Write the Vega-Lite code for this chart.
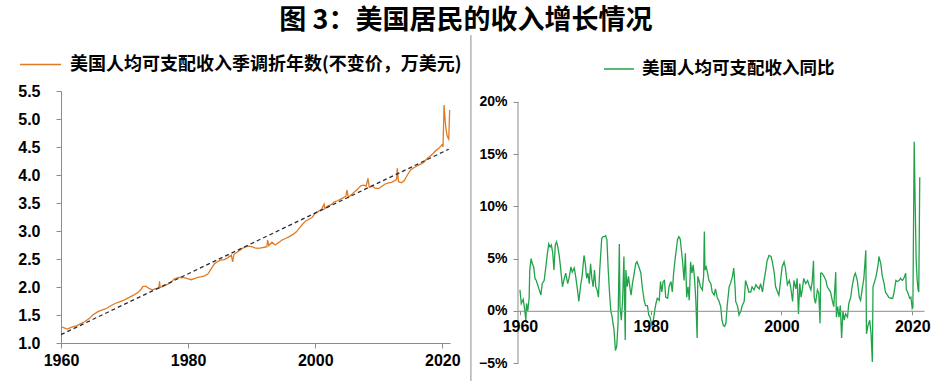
{
  "$schema": "https://vega.github.io/schema/vega-lite/v6.json",
  "background": "white",
  "padding": {"left": 17, "top": 6, "right": 2, "bottom": 0},
  "autosize": {"type": "pad"},
  "title": {"text": "图 3：美国居民的收入增长情况", "anchor": "middle", "dx": -8, "font": "Noto Sans CJK SC", "fontSize": 27, "fontWeight": "bold", "color": "black", "offset": 0},
  "spacing": 8,
  "resolve": {"scale": {"color": "independent", "x": "independent", "y": "independent"}, "legend": {"color": "independent"}},
  "datasets": {
    "income": [
      {"year":1960.0,"value":1.29},{"year":1960.5,"value":1.27},{"year":1961.0,"value":1.25},{"year":1961.6,"value":1.28},{"year":1962.5,"value":1.31},{"year":1963.2,"value":1.35},{"year":1963.7,"value":1.38},{"year":1964.5,"value":1.44},{"year":1965.0,"value":1.50},{"year":1965.8,"value":1.56},{"year":1966.5,"value":1.59},{"year":1967.2,"value":1.62},{"year":1967.9,"value":1.67},{"year":1968.6,"value":1.71},{"year":1969.3,"value":1.74},{"year":1970.0,"value":1.77},{"year":1970.8,"value":1.82},{"year":1971.5,"value":1.86},{"year":1972.1,"value":1.90},{"year":1972.6,"value":1.96},{"year":1972.9,"value":2.01},{"year":1973.4,"value":2.01},{"year":1973.9,"value":1.97},{"year":1974.4,"value":1.95},{"year":1974.9,"value":1.97},{"year":1975.4,"value":1.98},{"year":1975.5,"value":2.10},{"year":1975.6,"value":1.99},{"year":1976.2,"value":2.02},{"year":1976.8,"value":2.05},{"year":1977.3,"value":2.08},{"year":1977.8,"value":2.14},{"year":1978.5,"value":2.17},{"year":1979.2,"value":2.17},{"year":1979.9,"value":2.15},{"year":1980.5,"value":2.13},{"year":1981.0,"value":2.15},{"year":1981.5,"value":2.17},{"year":1982.0,"value":2.18},{"year":1982.6,"value":2.20},{"year":1983.1,"value":2.23},{"year":1983.6,"value":2.32},{"year":1984.1,"value":2.41},{"year":1984.6,"value":2.45},{"year":1985.1,"value":2.48},{"year":1985.7,"value":2.49},{"year":1986.2,"value":2.52},{"year":1986.8,"value":2.57},{"year":1987.0,"value":2.45},{"year":1987.2,"value":2.58},{"year":1987.8,"value":2.63},{"year":1988.4,"value":2.68},{"year":1988.9,"value":2.71},{"year":1989.5,"value":2.73},{"year":1990.0,"value":2.72},{"year":1990.5,"value":2.70},{"year":1991.0,"value":2.69},{"year":1991.5,"value":2.70},{"year":1992.0,"value":2.71},{"year":1992.4,"value":2.72},{"year":1992.5,"value":2.84},{"year":1992.7,"value":2.74},{"year":1993.2,"value":2.80},{"year":1993.7,"value":2.75},{"year":1994.3,"value":2.80},{"year":1994.8,"value":2.84},{"year":1995.4,"value":2.87},{"year":1995.9,"value":2.90},{"year":1996.5,"value":2.94},{"year":1997.0,"value":2.98},{"year":1997.5,"value":3.05},{"year":1998.0,"value":3.12},{"year":1998.5,"value":3.18},{"year":1999.0,"value":3.21},{"year":1999.5,"value":3.24},{"year":2000.0,"value":3.32},{"year":2000.5,"value":3.35},{"year":2001.0,"value":3.39},{"year":2001.4,"value":3.48},{"year":2001.5,"value":3.40},{"year":2002.0,"value":3.45},{"year":2002.5,"value":3.47},{"year":2003.0,"value":3.52},{"year":2003.5,"value":3.54},{"year":2004.0,"value":3.57},{"year":2004.5,"value":3.60},{"year":2004.8,"value":3.62},{"year":2005.0,"value":3.73},{"year":2005.2,"value":3.60},{"year":2005.7,"value":3.65},{"year":2006.2,"value":3.70},{"year":2006.7,"value":3.75},{"year":2007.2,"value":3.81},{"year":2007.7,"value":3.82},{"year":2008.0,"value":3.80},{"year":2008.3,"value":3.94},{"year":2008.5,"value":3.78},{"year":2009.0,"value":3.80},{"year":2009.5,"value":3.76},{"year":2010.0,"value":3.76},{"year":2010.5,"value":3.80},{"year":2011.0,"value":3.84},{"year":2011.5,"value":3.86},{"year":2012.0,"value":3.87},{"year":2012.5,"value":3.90},{"year":2012.8,"value":3.92},{"year":2012.9,"value":4.12},{"year":2013.1,"value":3.88},{"year":2013.6,"value":3.86},{"year":2014.0,"value":3.90},{"year":2014.5,"value":4.00},{"year":2015.0,"value":4.09},{"year":2015.5,"value":4.13},{"year":2016.0,"value":4.16},{"year":2016.5,"value":4.19},{"year":2017.0,"value":4.22},{"year":2017.5,"value":4.28},{"year":2018.0,"value":4.33},{"year":2018.5,"value":4.38},{"year":2019.0,"value":4.44},{"year":2019.5,"value":4.48},{"year":2020.0,"value":4.55},{"year":2020.1,"value":4.50},{"year":2020.27,"value":5.25},{"year":2020.45,"value":4.95},{"year":2020.6,"value":4.80},{"year":2020.75,"value":4.70},{"year":2020.9,"value":4.66},{"year":2021.0,"value":4.64},{"year":2021.15,"value":5.16}
    ],
    "trend": [{"year":1960.0,"value":1.15},{"year":2021.0,"value":4.46}],
    "growth": [
      {"year":1960.0,"value":2.0},{"year":1960.2,"value":0.7},{"year":1960.5,"value":1.1},{"year":1960.7,"value":0.2},{"year":1960.9,"value":-0.9},{"year":1961.0,"value":0.7},{"year":1961.2,"value":0.0},{"year":1961.4,"value":1.2},{"year":1961.5,"value":3.9},{"year":1961.7,"value":5.0},{"year":1961.9,"value":4.5},{"year":1962.1,"value":4.2},{"year":1962.3,"value":3.1},{"year":1962.5,"value":2.9},{"year":1962.7,"value":2.5},{"year":1962.9,"value":2.1},{"year":1963.2,"value":1.5},{"year":1963.4,"value":2.6},{"year":1963.7,"value":2.9},{"year":1963.9,"value":3.9},{"year":1964.2,"value":5.5},{"year":1964.4,"value":6.4},{"year":1964.6,"value":6.1},{"year":1964.8,"value":6.3},{"year":1965.0,"value":5.6},{"year":1965.2,"value":3.9},{"year":1965.4,"value":6.3},{"year":1965.6,"value":6.6},{"year":1965.8,"value":6.1},{"year":1966.0,"value":5.3},{"year":1966.2,"value":4.2},{"year":1966.5,"value":2.3},{"year":1966.7,"value":2.9},{"year":1967.0,"value":3.6},{"year":1967.3,"value":2.6},{"year":1967.5,"value":3.1},{"year":1967.8,"value":4.2},{"year":1968.0,"value":3.7},{"year":1968.3,"value":4.1},{"year":1968.5,"value":3.4},{"year":1968.8,"value":2.0},{"year":1969.0,"value":0.9},{"year":1969.3,"value":2.5},{"year":1969.5,"value":3.3},{"year":1969.8,"value":5.3},{"year":1970.0,"value":4.5},{"year":1970.2,"value":3.1},{"year":1970.4,"value":3.6},{"year":1970.6,"value":2.6},{"year":1970.8,"value":4.5},{"year":1971.0,"value":3.1},{"year":1971.2,"value":2.3},{"year":1971.4,"value":3.9},{"year":1971.6,"value":2.3},{"year":1971.8,"value":2.0},{"year":1972.0,"value":1.3},{"year":1972.2,"value":3.9},{"year":1972.5,"value":6.9},{"year":1972.7,"value":7.1},{"year":1972.9,"value":7.1},{"year":1973.1,"value":7.2},{"year":1973.3,"value":6.8},{"year":1973.5,"value":3.9},{"year":1973.7,"value":1.7},{"year":1973.9,"value":0.0},{"year":1974.1,"value":-0.6},{"year":1974.4,"value":-1.9},{"year":1974.6,"value":-3.8},{"year":1974.8,"value":-3.4},{"year":1975.0,"value":-1.2},{"year":1975.2,"value":6.4},{"year":1975.3,"value":0.4},{"year":1975.5,"value":-0.9},{"year":1975.7,"value":1.0},{"year":1975.9,"value":5.2},{"year":1976.1,"value":-2.8},{"year":1976.2,"value":3.9},{"year":1976.4,"value":2.3},{"year":1976.6,"value":3.3},{"year":1976.8,"value":2.3},{"year":1977.0,"value":1.5},{"year":1977.2,"value":2.6},{"year":1977.4,"value":3.3},{"year":1977.7,"value":4.5},{"year":1977.9,"value":4.7},{"year":1978.2,"value":4.2},{"year":1978.5,"value":3.6},{"year":1978.7,"value":2.3},{"year":1979.0,"value":1.0},{"year":1979.2,"value":0.5},{"year":1979.5,"value":0.5},{"year":1979.7,"value":-0.4},{"year":1979.9,"value":-0.6},{"year":1980.2,"value":-1.5},{"year":1980.4,"value":-0.9},{"year":1980.6,"value":0.0},{"year":1980.8,"value":0.7},{"year":1981.0,"value":1.2},{"year":1981.3,"value":1.0},{"year":1981.5,"value":2.8},{"year":1981.7,"value":1.8},{"year":1981.9,"value":2.8},{"year":1982.1,"value":2.9},{"year":1982.3,"value":1.3},{"year":1982.6,"value":1.2},{"year":1982.8,"value":2.3},{"year":1983.1,"value":2.8},{"year":1983.3,"value":1.8},{"year":1983.5,"value":3.6},{"year":1983.7,"value":4.8},{"year":1983.9,"value":5.8},{"year":1984.1,"value":6.8},{"year":1984.3,"value":7.1},{"year":1984.5,"value":6.9},{"year":1984.7,"value":5.8},{"year":1984.9,"value":4.5},{"year":1985.1,"value":2.9},{"year":1985.3,"value":5.5},{"year":1985.5,"value":1.3},{"year":1985.7,"value":2.3},{"year":1985.9,"value":1.0},{"year":1986.1,"value":4.7},{"year":1986.3,"value":3.6},{"year":1986.5,"value":4.4},{"year":1986.7,"value":3.1},{"year":1986.9,"value":1.0},{"year":1987.1,"value":-2.6},{"year":1987.2,"value":3.3},{"year":1987.4,"value":2.9},{"year":1987.6,"value":2.3},{"year":1987.9,"value":2.0},{"year":1988.1,"value":3.4},{"year":1988.2,"value":7.6},{"year":1988.3,"value":3.9},{"year":1988.5,"value":4.2},{"year":1988.7,"value":3.6},{"year":1988.9,"value":2.9},{"year":1989.2,"value":2.6},{"year":1989.4,"value":1.8},{"year":1989.7,"value":1.5},{"year":1989.9,"value":2.1},{"year":1990.2,"value":1.2},{"year":1990.4,"value":1.0},{"year":1990.7,"value":0.4},{"year":1990.9,"value":-0.9},{"year":1991.1,"value":-1.4},{"year":1991.3,"value":-1.5},{"year":1991.5,"value":-1.2},{"year":1991.7,"value":0.5},{"year":1992.0,"value":2.3},{"year":1992.2,"value":2.6},{"year":1992.5,"value":3.3},{"year":1992.7,"value":4.1},{"year":1992.9,"value":2.3},{"year":1993.0,"value":0.9},{"year":1993.3,"value":0.4},{"year":1993.5,"value":-0.4},{"year":1993.8,"value":0.0},{"year":1994.0,"value":0.5},{"year":1994.3,"value":0.9},{"year":1994.5,"value":2.9},{"year":1994.8,"value":2.3},{"year":1995.0,"value":1.8},{"year":1995.3,"value":1.8},{"year":1995.5,"value":2.3},{"year":1995.8,"value":2.0},{"year":1996.1,"value":2.5},{"year":1996.3,"value":2.3},{"year":1996.6,"value":2.1},{"year":1996.8,"value":2.6},{"year":1997.1,"value":1.8},{"year":1997.3,"value":2.8},{"year":1997.6,"value":3.9},{"year":1997.8,"value":4.8},{"year":1998.1,"value":5.3},{"year":1998.4,"value":5.2},{"year":1998.6,"value":4.7},{"year":1998.9,"value":3.6},{"year":1999.1,"value":2.3},{"year":1999.4,"value":1.8},{"year":1999.6,"value":1.5},{"year":1999.9,"value":3.1},{"year":2000.1,"value":4.2},{"year":2000.4,"value":4.7},{"year":2000.6,"value":4.1},{"year":2000.9,"value":2.5},{"year":2001.2,"value":2.9},{"year":2001.4,"value":2.3},{"year":2001.7,"value":0.9},{"year":2001.9,"value":2.9},{"year":2002.2,"value":2.1},{"year":2002.4,"value":3.1},{"year":2002.6,"value":-0.3},{"year":2002.8,"value":2.6},{"year":2003.0,"value":1.3},{"year":2003.2,"value":2.1},{"year":2003.4,"value":3.1},{"year":2003.7,"value":2.6},{"year":2004.0,"value":2.9},{"year":2004.2,"value":2.5},{"year":2004.5,"value":2.0},{"year":2004.7,"value":2.8},{"year":2004.9,"value":4.8},{"year":2005.0,"value":1.3},{"year":2005.2,"value":0.7},{"year":2005.5,"value":2.0},{"year":2005.7,"value":1.7},{"year":2005.9,"value":-1.2},{"year":2006.0,"value":3.6},{"year":2006.2,"value":3.6},{"year":2006.5,"value":3.3},{"year":2006.8,"value":2.9},{"year":2007.0,"value":2.3},{"year":2007.3,"value":2.0},{"year":2007.5,"value":1.8},{"year":2007.8,"value":0.9},{"year":2008.0,"value":0.4},{"year":2008.3,"value":3.7},{"year":2008.4,"value":-0.6},{"year":2008.6,"value":0.4},{"year":2008.8,"value":-0.6},{"year":2009.0,"value":0.5},{"year":2009.2,"value":-2.6},{"year":2009.4,"value":0.0},{"year":2009.6,"value":-0.9},{"year":2009.8,"value":-0.3},{"year":2010.1,"value":-0.6},{"year":2010.3,"value":0.7},{"year":2010.6,"value":1.3},{"year":2010.8,"value":2.3},{"year":2011.1,"value":3.3},{"year":2011.3,"value":3.6},{"year":2011.6,"value":2.9},{"year":2011.9,"value":1.3},{"year":2012.1,"value":1.0},{"year":2012.4,"value":2.3},{"year":2012.6,"value":3.1},{"year":2012.9,"value":5.8},{"year":2013.0,"value":-2.2},{"year":2013.2,"value":-1.5},{"year":2013.5,"value":-0.9},{"year":2013.7,"value":-2.2},{"year":2013.9,"value":-4.9},{"year":2014.0,"value":2.3},{"year":2014.3,"value":2.9},{"year":2014.5,"value":3.4},{"year":2014.8,"value":4.5},{"year":2014.9,"value":5.2},{"year":2015.2,"value":4.5},{"year":2015.4,"value":3.4},{"year":2015.7,"value":2.6},{"year":2015.9,"value":1.8},{"year":2016.2,"value":1.5},{"year":2016.4,"value":1.3},{"year":2016.7,"value":1.2},{"year":2017.0,"value":1.2},{"year":2017.2,"value":1.7},{"year":2017.5,"value":2.9},{"year":2017.7,"value":2.8},{"year":2018.0,"value":2.9},{"year":2018.2,"value":3.1},{"year":2018.5,"value":2.9},{"year":2018.7,"value":3.1},{"year":2019.0,"value":3.6},{"year":2019.1,"value":2.0},{"year":2019.3,"value":1.8},{"year":2019.6,"value":1.2},{"year":2019.8,"value":1.3},{"year":2020.0,"value":0.2},{"year":2020.1,"value":0.3},{"year":2020.3,"value":16.2},{"year":2020.45,"value":10.3},{"year":2020.6,"value":4.9},{"year":2020.75,"value":3.0},{"year":2020.9,"value":2.0},{"year":2021.0,"value":1.8},{"year":2021.15,"value":12.8}
    ]
  },
  "hconcat": [
    {
      "width": 389,
      "height": 252,
      "encoding": {
        "x": {"field": "year", "type": "quantitative", "scale": {"domain": [1960, 2021.2], "nice": false, "zero": false},
          "axis": {"values": [1960, 1980, 2000, 2020], "format": "d", "title": null, "grid": false, "labelOverlap": false, "labelFont": "Liberation Sans", "labelFontSize": 16, "labelFontWeight": "bold", "labelColor": "black", "domainColor": "#8c8c8c", "tickColor": "#8c8c8c", "tickSize": 5, "labelPadding": 4, "labelFlush": false}},
        "y": {"field": "value", "type": "quantitative", "scale": {"domain": [1, 5.5], "nice": false, "zero": false},
          "axis": {"values": [1, 1.5, 2, 2.5, 3, 3.5, 4, 4.5, 5, 5.5], "format": ".1f", "title": null, "grid": false, "labelOverlap": false, "labelFont": "Liberation Sans", "labelFontSize": 16, "labelFontWeight": "bold", "labelColor": "black", "domainColor": "#8c8c8c", "tickColor": "#8c8c8c", "tickSize": 5, "labelPadding": 16}}
      },
      "layer": [
        {
          "data": {"name": "income"},
          "mark": {"type": "line", "strokeWidth": 1.3},
          "encoding": {
            "color": {"datum": "美国人均可支配收入季调折年数(不变价，万美元)", "type": "nominal", "scale": {"range": ["#E07B24"]},
              "legend": {"orient": "none", "legendX": -42, "legendY": -48, "title": null, "symbolType": "stroke", "symbolSize": 1681, "symbolStrokeWidth": 1.5, "labelFont": "Noto Sans CJK SC", "labelFontSize": 18, "labelFontWeight": "bold", "labelColor": "black", "labelLimit": 600, "labelOffset": 8, "padding": 0}}
          }
        },
        {
          "data": {"name": "trend"},
          "mark": {"type": "line", "color": "#2a2a3a", "strokeDash": [4, 3], "strokeWidth": 1.3},
          "encoding": {}
        }
      ]
    },
    {
      "width": 406,
      "height": 272,
      "layer": [
        {
          "data": {"values": [{}]},
          "mark": {"type": "rule", "color": "#8c8c8c", "strokeWidth": 1},
          "encoding": {
            "x": {"datum": 1952.5, "type": "quantitative"},
            "y": {"datum": 26.4, "type": "quantitative"},
            "y2": {"datum": -6.73}
          }
        },
        {
          "data": {"values": [{}]},
          "mark": {"type": "rule", "color": "#8c8c8c", "strokeWidth": 1},
          "encoding": {
            "x": {"datum": 1959.7, "type": "quantitative"},
            "y": {"datum": -5, "type": "quantitative"},
            "y2": {"datum": 20}
          }
        },
        {
          "data": {"name": "growth"},
          "mark": {"type": "line", "strokeWidth": 1.3},
          "encoding": {
            "x": {"field": "year", "type": "quantitative", "scale": {"domain": [1959.7, 2021.8], "nice": false, "zero": false},
              "axis": {"values": [1960, 1980, 2000, 2020], "format": "d", "title": null, "grid": false, "offset": -52.2, "zindex": 1, "labelOverlap": false, "labelFont": "Liberation Sans", "labelFontSize": 16, "labelFontWeight": "bold", "labelColor": "black", "domainColor": "#8c8c8c", "tickColor": "#8c8c8c", "tickSize": 4, "labelPadding": 4, "labelFlush": false}},
            "y": {"field": "value", "type": "quantitative", "scale": {"domain": [-5, 21.05], "nice": false, "zero": false},
              "axis": {"values": [-5, 0, 5, 10, 15, 20], "labelExpr": "(datum.value < 0 ? '−' : '') + abs(datum.value) + '%'", "title": null, "grid": false, "domain": false, "labelOverlap": false, "labelFont": "Liberation Sans", "labelFontSize": 14, "labelFontWeight": "bold", "labelColor": "black", "tickColor": "#8c8c8c", "tickSize": 5, "labelPadding": 6}},
            "color": {"datum": "美国人均可支配收入同比", "type": "nominal", "scale": {"range": ["#22A34A"]},
              "legend": {"orient": "none", "legendX": 85, "legendY": -38, "title": null, "symbolType": "stroke", "symbolSize": 900, "symbolStrokeWidth": 1.5, "labelFont": "Noto Sans CJK SC", "labelFontSize": 17.5, "labelFontWeight": "bold", "labelColor": "black", "labelLimit": 600, "labelOffset": 7, "padding": 0}}
          }
        }
      ]
    }
  ],
  "config": {
    "view": {"stroke": null},
    "axis": {"labelFont": "Liberation Sans"}
  }
}
